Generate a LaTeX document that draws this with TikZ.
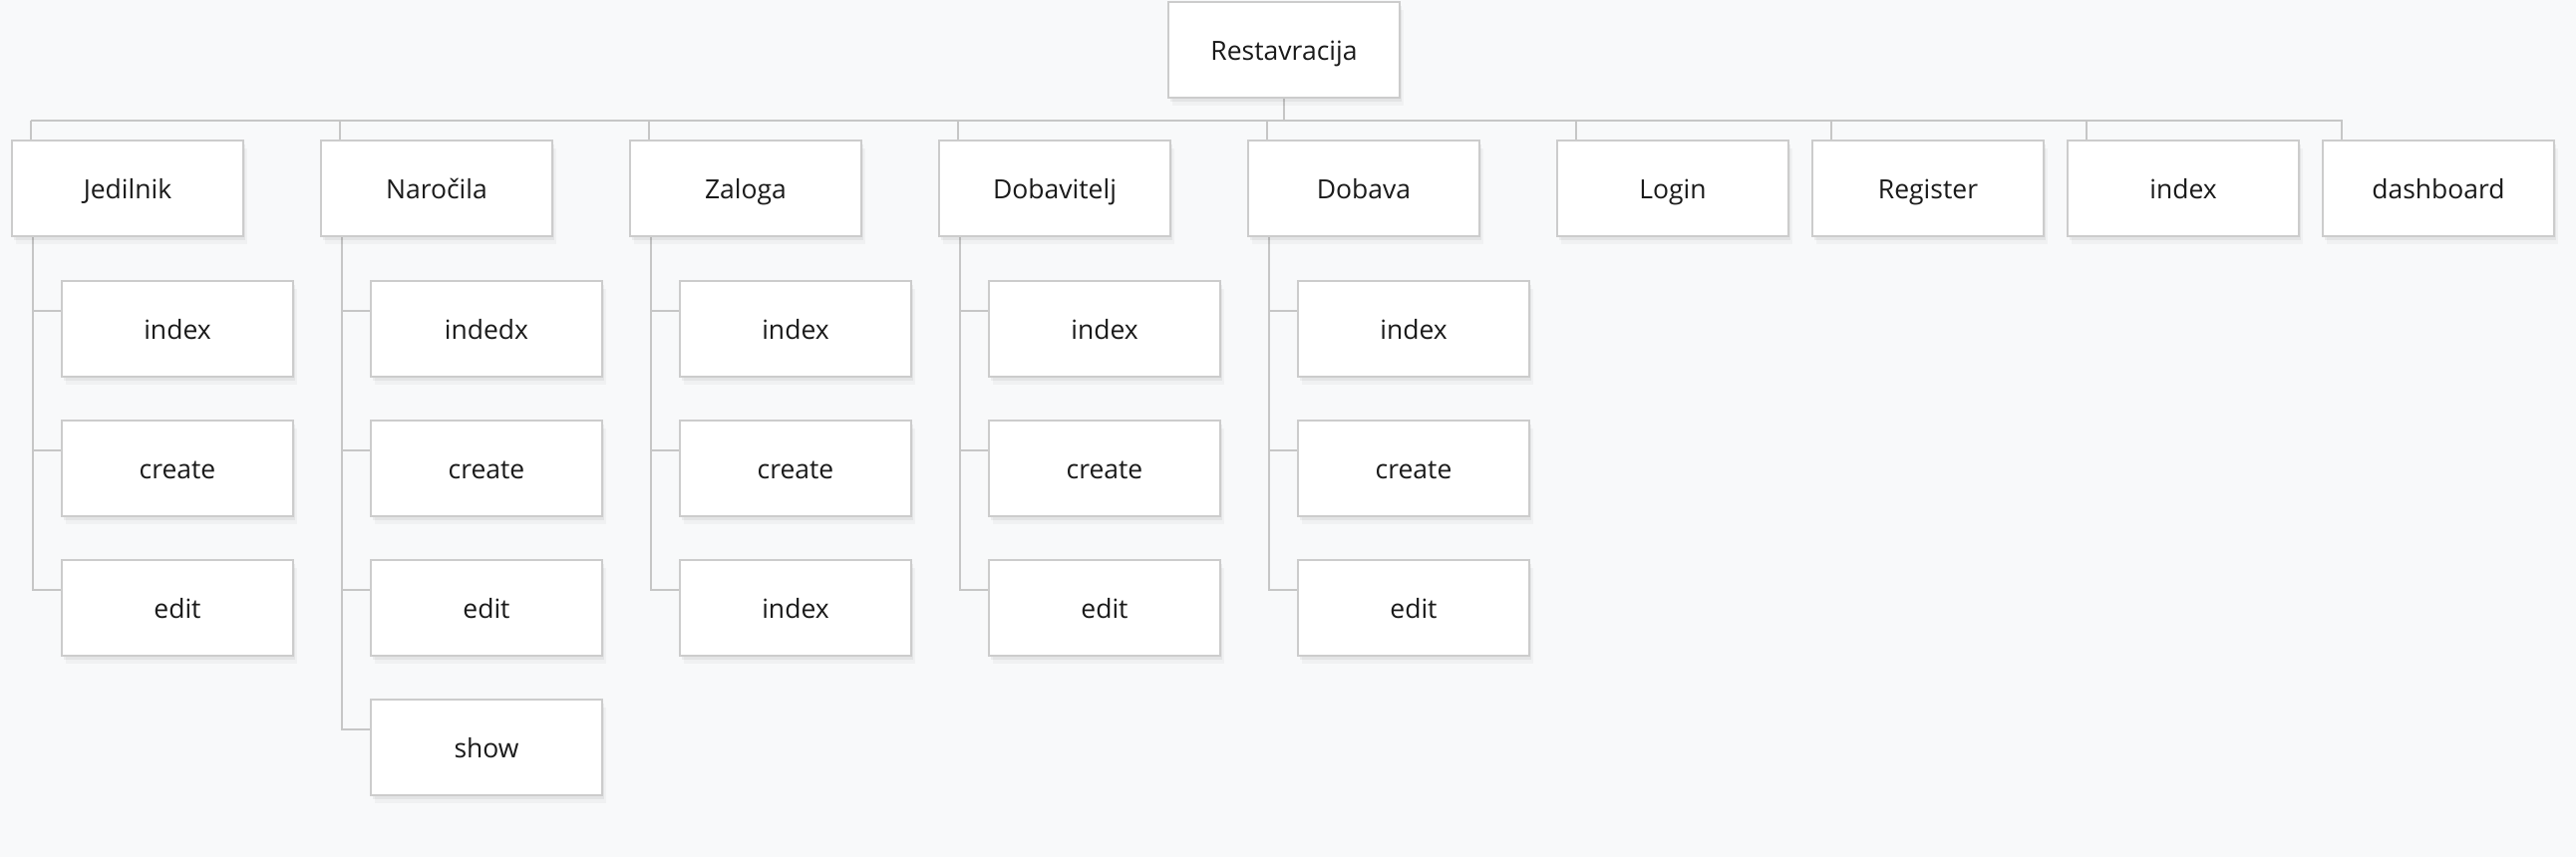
\documentclass[tikz,border=0pt]{standalone}
\usepackage{fontspec}
\setmainfont{Open Sans}
\usetikzlibrary{shadows,calc,backgrounds}
\definecolor{bgc}{HTML}{F8F9FA}
\definecolor{boxline}{HTML}{CCCCCC}
\definecolor{linec}{HTML}{C6C6C6}
\definecolor{txt}{HTML}{1A1A1A}
\tikzset{
  box/.style={draw=boxline, line width=2.4pt, fill=white, minimum width=232pt, minimum height=96pt,
    anchor=north west, inner sep=0pt, outer sep=0pt, text height=26pt, text depth=6pt,
    font=\fontsize{26.5}{32}\selectfont, text=txt,
    drop shadow={shadow xshift=2pt, shadow yshift=-4pt, opacity=0.05, fill=black},
    drop shadow={shadow xshift=4pt, shadow yshift=-8pt, opacity=0.03, fill=black}},
  conn/.style={draw=linec, line width=2.4pt}
}
\begin{document}
\begin{tikzpicture}[x=1pt,y=1pt]
\useasboundingbox (0,0) rectangle (2584,-860);
% root
\node[box] (R) at (1172,-2) {Restavracija};
% top level
\node[box] (J)  at (12,-141)   {Jedilnik};
\node[box] (N)  at (322,-141)  {Naročila};
\node[box] (Z)  at (632,-141)  {Zaloga};
\node[box] (Dt) at (942,-141)  {Dobavitelj};
\node[box] (Da) at (1252,-141) {Dobava};
\node[box] (L)  at (1562,-141) {Login};
\node[box] (Rg) at (1818,-141) {Register};
\node[box] (I)  at (2074,-141) {index};
\node[box] (Db) at (2330,-141) {dashboard};
% children
\node[box] (J1) at (62,-282)  {index};
\node[box] (J2) at (62,-422)  {create};
\node[box] (J3) at (62,-562)  {edit};
\node[box] (N1) at (372,-282) {indedx};
\node[box] (N2) at (372,-422) {create};
\node[box] (N3) at (372,-562) {edit};
\node[box] (N4) at (372,-702) {show};
\node[box] (Z1) at (682,-282) {index};
\node[box] (Z2) at (682,-422) {create};
\node[box] (Z3) at (682,-562) {index};
\node[box] (T1) at (992,-282) {index};
\node[box] (T2) at (992,-422) {create};
\node[box] (T3) at (992,-562) {edit};
\node[box] (A1) at (1302,-282) {index};
\node[box] (A2) at (1302,-422) {create};
\node[box] (A3) at (1302,-562) {edit};
\coordinate (busL) at (31,-121);
\coordinate (busR) at (2349,-121);
\begin{pgfonlayer}{background}
\fill[bgc] (0,0) rectangle (2584,-860);
\draw[conn] (R.south) -- (R.south |- busL);
\draw[conn] (busL) -- (busR);
\foreach \p in {J,N,Z,Dt,Da,L,Rg,I,Db}{
  \draw[conn] ($(\p.north west)+(19,0)$) |- (busL);
}
\foreach \p/\c in {J/J1,J/J2,J/J3,N/N1,N/N2,N/N3,N/N4,Z/Z1,Z/Z2,Z/Z3,Dt/T1,Dt/T2,Dt/T3,Da/A1,Da/A2,Da/A3}{
  \draw[conn] ($(\c.north west)+(0,-30)$) -| ($(\p.south west)+(21,0)$);
}
\end{pgfonlayer}
\end{tikzpicture}
\end{document}
